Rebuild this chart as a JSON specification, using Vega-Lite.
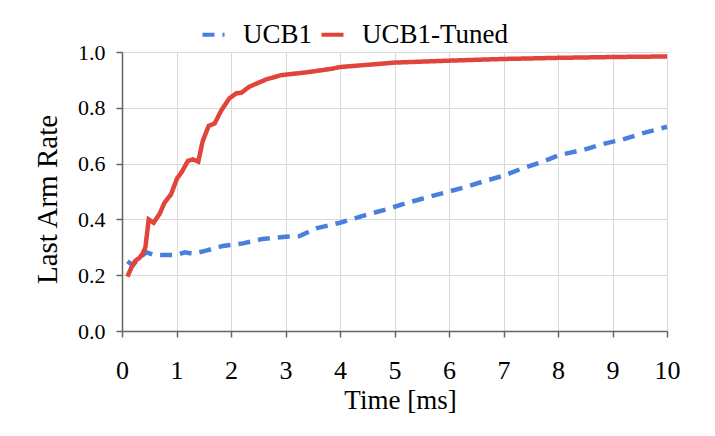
{
  "$schema": "https://vega.github.io/schema/vega-lite/v6.json",
  "width": 545,
  "height": 279,
  "autosize": "none",
  "padding": {"left": 122, "top": 52, "right": 48, "bottom": 105},
  "background": "white",
  "config": {
    "font": "Liberation Serif",
    "view": {"stroke": null},
    "axis": {
      "labelColor": "#000",
      "titleColor": "#000",
      "titleFontWeight": "normal",
      "domainColor": "#666",
      "domainWidth": 1.5,
      "tickColor": "#666",
      "tickWidth": 1.5,
      "tickSize": 6,
      "gridColor": "#d9d9d9",
      "gridWidth": 1
    }
  },
  "data": {
    "values": [
      {"time": 0.1, "rate": 0.25, "series": "UCB1"},
      {"time": 0.2, "rate": 0.235, "series": "UCB1"},
      {"time": 0.3, "rate": 0.26, "series": "UCB1"},
      {"time": 0.45, "rate": 0.282, "series": "UCB1"},
      {"time": 0.6, "rate": 0.272, "series": "UCB1"},
      {"time": 1.0, "rate": 0.272, "series": "UCB1"},
      {"time": 1.15, "rate": 0.282, "series": "UCB1"},
      {"time": 1.3, "rate": 0.277, "series": "UCB1"},
      {"time": 1.54, "rate": 0.288, "series": "UCB1"},
      {"time": 1.85, "rate": 0.305, "series": "UCB1"},
      {"time": 2.22, "rate": 0.314, "series": "UCB1"},
      {"time": 2.58, "rate": 0.33, "series": "UCB1"},
      {"time": 3.01, "rate": 0.338, "series": "UCB1"},
      {"time": 3.26, "rate": 0.34, "series": "UCB1"},
      {"time": 3.56, "rate": 0.368, "series": "UCB1"},
      {"time": 4.0, "rate": 0.388, "series": "UCB1"},
      {"time": 4.48, "rate": 0.416, "series": "UCB1"},
      {"time": 4.85, "rate": 0.436, "series": "UCB1"},
      {"time": 5.21, "rate": 0.458, "series": "UCB1"},
      {"time": 5.58, "rate": 0.478, "series": "UCB1"},
      {"time": 5.89, "rate": 0.494, "series": "UCB1"},
      {"time": 6.32, "rate": 0.517, "series": "UCB1"},
      {"time": 6.68, "rate": 0.539, "series": "UCB1"},
      {"time": 6.99, "rate": 0.556, "series": "UCB1"},
      {"time": 7.35, "rate": 0.583, "series": "UCB1"},
      {"time": 7.72, "rate": 0.607, "series": "UCB1"},
      {"time": 8.03, "rate": 0.631, "series": "UCB1"},
      {"time": 8.46, "rate": 0.649, "series": "UCB1"},
      {"time": 8.82, "rate": 0.67, "series": "UCB1"},
      {"time": 9.19, "rate": 0.687, "series": "UCB1"},
      {"time": 9.56, "rate": 0.709, "series": "UCB1"},
      {"time": 10.0, "rate": 0.732, "series": "UCB1"},
      {"time": 0.1, "rate": 0.195, "series": "UCB1-Tuned"},
      {"time": 0.2, "rate": 0.24, "series": "UCB1-Tuned"},
      {"time": 0.26, "rate": 0.254, "series": "UCB1-Tuned"},
      {"time": 0.32, "rate": 0.262, "series": "UCB1-Tuned"},
      {"time": 0.38, "rate": 0.278, "series": "UCB1-Tuned"},
      {"time": 0.43, "rate": 0.3, "series": "UCB1-Tuned"},
      {"time": 0.49, "rate": 0.4, "series": "UCB1-Tuned"},
      {"time": 0.58, "rate": 0.388, "series": "UCB1-Tuned"},
      {"time": 0.69, "rate": 0.42, "series": "UCB1-Tuned"},
      {"time": 0.78, "rate": 0.46, "series": "UCB1-Tuned"},
      {"time": 0.9, "rate": 0.49, "series": "UCB1-Tuned"},
      {"time": 1.01, "rate": 0.547, "series": "UCB1-Tuned"},
      {"time": 1.1, "rate": 0.571, "series": "UCB1-Tuned"},
      {"time": 1.21, "rate": 0.61, "series": "UCB1-Tuned"},
      {"time": 1.3, "rate": 0.615, "series": "UCB1-Tuned"},
      {"time": 1.4, "rate": 0.607, "series": "UCB1-Tuned"},
      {"time": 1.48, "rate": 0.68, "series": "UCB1-Tuned"},
      {"time": 1.59, "rate": 0.735, "series": "UCB1-Tuned"},
      {"time": 1.7, "rate": 0.744, "series": "UCB1-Tuned"},
      {"time": 1.82, "rate": 0.79, "series": "UCB1-Tuned"},
      {"time": 1.97, "rate": 0.834, "series": "UCB1-Tuned"},
      {"time": 2.1, "rate": 0.852, "series": "UCB1-Tuned"},
      {"time": 2.19, "rate": 0.854, "series": "UCB1-Tuned"},
      {"time": 2.34, "rate": 0.876, "series": "UCB1-Tuned"},
      {"time": 2.65, "rate": 0.902, "series": "UCB1-Tuned"},
      {"time": 2.92, "rate": 0.917, "series": "UCB1-Tuned"},
      {"time": 3.38, "rate": 0.927, "series": "UCB1-Tuned"},
      {"time": 3.82, "rate": 0.939, "series": "UCB1-Tuned"},
      {"time": 4.0, "rate": 0.946, "series": "UCB1-Tuned"},
      {"time": 5.0, "rate": 0.962, "series": "UCB1-Tuned"},
      {"time": 6.0, "rate": 0.969, "series": "UCB1-Tuned"},
      {"time": 7.0, "rate": 0.975, "series": "UCB1-Tuned"},
      {"time": 8.0, "rate": 0.979, "series": "UCB1-Tuned"},
      {"time": 9.0, "rate": 0.982, "series": "UCB1-Tuned"},
      {"time": 10.0, "rate": 0.984, "series": "UCB1-Tuned"}
    ]
  },
  "mark": {"type": "line", "strokeWidth": 4.5, "strokeCap": "butt"},
  "encoding": {
    "x": {
      "field": "time",
      "type": "quantitative",
      "scale": {"domain": [0, 10], "nice": false},
      "axis": {
        "values": [0, 1, 2, 3, 4, 5, 6, 7, 8, 9, 10],
        "title": "Time [ms]",
        "titleFont": "Liberation Serif",
        "titleFontSize": 27,
        "titleBaseline": "alphabetic",
        "titleY": 77,
        "titleX": 278,
        "labelFont": "Liberation Serif",
        "labelFontSize": 26,
        "labelPadding": 20,
        "labelFlush": false
      }
    },
    "y": {
      "field": "rate",
      "type": "quantitative",
      "scale": {"domain": [0, 1], "nice": false},
      "axis": {
        "values": [0, 0.2, 0.4, 0.6, 0.8, 1.0],
        "format": ".1f",
        "title": "Last Arm Rate",
        "titleFont": "Liberation Serif",
        "titleFontSize": 29,
        "titleBaseline": "alphabetic",
        "titleX": -66,
        "titleY": 147,
        "labelFont": "Liberation Serif",
        "labelFontSize": 22,
        "labelPadding": 11
      }
    },
    "color": {
      "field": "series",
      "type": "nominal",
      "scale": {"domain": ["UCB1", "UCB1-Tuned"], "range": ["#4A7FE0", "#E0443A"]},
      "legend": {
        "title": null,
        "orient": "none",
        "direction": "horizontal",
        "legendX": 78,
        "legendY": -31,
        "labelFont": "Liberation Serif",
        "labelFontSize": 27,
        "labelColor": "#000",
        "symbolSize": 484,
        "symbolStrokeWidth": 4,
        "labelOffset": 16,
        "columnPadding": 0,
        "encode": {
          "symbols": {
            "update": {
              "strokeDash": {"signal": "datum.value === 'UCB1' ? [8, 6] : [1, 0]"}
            }
          }
        }
      }
    },
    "strokeDash": {
      "field": "series",
      "type": "nominal",
      "scale": {"domain": ["UCB1", "UCB1-Tuned"], "range": [[12, 8], [1, 0]]},
      "legend": {
        "title": null,
        "orient": "none",
        "direction": "horizontal",
        "legendX": 78,
        "legendY": -31,
        "labelFont": "Liberation Serif",
        "labelFontSize": 27,
        "labelColor": "#000",
        "symbolSize": 484,
        "symbolStrokeWidth": 4,
        "labelOffset": 16,
        "columnPadding": 0,
        "encode": {
          "symbols": {
            "update": {
              "strokeDash": {"signal": "datum.value === 'UCB1' ? [8, 6] : [1, 0]"}
            }
          }
        }
      }
    }
  }
}
